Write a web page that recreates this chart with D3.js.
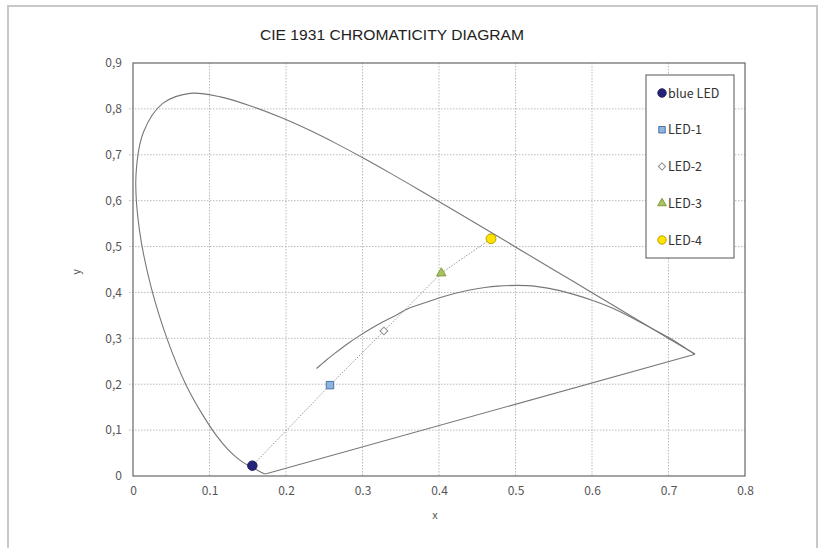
<!DOCTYPE html>
<html><head><meta charset="utf-8">
<script src="https://cdn.jsdelivr.net/npm/d3@7"></script>
<style>body{margin:0;background:#fff}svg{display:block}</style>
</head><body><svg id="c" width="825" height="548"></svg>
<script>
// CIE 1931 spectral locus (380-700 nm, 5 nm) [x, y]
const spectralLocus = [
[0.1741,0.0050],[0.1740,0.0050],[0.1738,0.0049],[0.1736,0.0049],[0.1733,0.0048],[0.1730,0.0048],
[0.1726,0.0048],[0.1721,0.0048],[0.1714,0.0051],[0.1703,0.0058],[0.1689,0.0069],[0.1669,0.0086],
[0.1644,0.0109],[0.1611,0.0138],[0.1566,0.0177],[0.1510,0.0227],[0.1440,0.0297],[0.1355,0.0399],
[0.1241,0.0578],[0.1096,0.0868],[0.0913,0.1327],[0.0687,0.2007],[0.0454,0.2950],[0.0235,0.4127],
[0.0082,0.5384],[0.0039,0.6548],[0.0139,0.7502],[0.0389,0.8120],[0.0743,0.8338],[0.1142,0.8262],
[0.1547,0.8059],[0.1929,0.7816],[0.2296,0.7543],[0.2658,0.7243],[0.3016,0.6923],[0.3373,0.6589],
[0.3731,0.6245],[0.4087,0.5896],[0.4441,0.5547],[0.4788,0.5202],[0.5125,0.4866],[0.5448,0.4544],
[0.5752,0.4242],[0.6029,0.3965],[0.6270,0.3725],[0.6482,0.3514],[0.6658,0.3340],[0.6801,0.3197],
[0.6915,0.3083],[0.7006,0.2993],[0.7079,0.2920],[0.7140,0.2859],[0.7190,0.2809],[0.7230,0.2770],
[0.7260,0.2740],[0.7283,0.2717],[0.7300,0.2700],[0.7311,0.2689],[0.7320,0.2680],[0.7327,0.2673],
[0.7334,0.2666],[0.7340,0.2660],[0.7344,0.2656],[0.7346,0.2654],[0.7347,0.2653]
];
// Line of purples (700 nm back to 380 nm)
const purpleLine = [[0.7347,0.2653],[0.1741,0.0050]];
// Planckian (blackbody) locus [x, y]
const planckLocus = [
[0.2399,0.2342],[0.2525,0.2523],[0.2637,0.2671],[0.2806,0.2883],[0.2952,0.3048],[0.3135,0.3236],
[0.3221,0.3318],[0.3451,0.3516],[0.3608,0.3657],[0.3805,0.3768],[0.4053,0.3907],[0.4369,0.4041],
[0.4599,0.4106],[0.4770,0.4137],[0.5018,0.4153],[0.5267,0.4133],[0.5580,0.4040],[0.6020,0.3820],
[0.6280,0.3650],[0.6528,0.3444],[0.6800,0.3200],[0.7020,0.3000],[0.7200,0.2810],[0.7347,0.2653]
];
const ledNames = ["blue LED","LED-1","LED-2","LED-3","LED-4"];
const ledX = [0.156, 0.2575, 0.328, 0.403, 0.468];
const ledY = [0.0225, 0.198, 0.316, 0.442, 0.517];
const xTicks = [0,0.1,0.2,0.3,0.4,0.5,0.6,0.7,0.8];
const yTicks = [0,0.1,0.2,0.3,0.4,0.5,0.6,0.7,0.8,0.9];

const svg = d3.select("#c");
const x = d3.scaleLinear().domain([0,0.8]).range([133,745]);
const y = d3.scaleLinear().domain([0,0.9]).range([476,63]);

// outer frame
svg.append("rect").attr("x",8).attr("y",6).attr("width",809).attr("height",560)
  .attr("fill","#fff").attr("stroke","#c8c8c8").attr("stroke-width",2);

// title
svg.append("text").attr("x",392).attr("y",40).attr("text-anchor","middle")
  .attr("font-family","'Liberation Sans Narrow','Liberation Sans',Arial,sans-serif")
  .attr("font-size",15).attr("fill","#222")
  .attr("textLength",264).attr("lengthAdjust","spacingAndGlyphs")
  .text("CIE 1931 CHROMATICITY DIAGRAM");

// grid
const g = svg.append("g");
g.selectAll(".vg").data(xTicks.slice(1,-1)).join("line")
  .attr("x1",d=>x(d)).attr("x2",d=>x(d)).attr("y1",y(0.9)).attr("y2",y(0))
  .attr("stroke","#aaa").attr("stroke-width",0.8).attr("stroke-dasharray","1.5,1.5");
g.selectAll(".hg").data(yTicks.slice(1,-1)).join("line")
  .attr("y1",d=>y(d)).attr("y2",d=>y(d)).attr("x1",x(0)-4).attr("x2",x(0.8))
  .attr("stroke","#aaa").attr("stroke-width",0.8).attr("stroke-dasharray","1.5,1.5");

// plot frame
svg.append("rect").attr("x",x(0)).attr("y",y(0.9)).attr("width",x(0.8)-x(0)).attr("height",y(0)-y(0.9))
  .attr("fill","none").attr("stroke","#666").attr("stroke-width",1.2);

// axes labels via d3 axes
const fontTick = "'Noto Sans CJK KR','Noto Sans',sans-serif";
const xAxis = svg.append("g").attr("transform",`translate(0,${y(0)})`)
  .call(d3.axisBottom(x).tickValues(xTicks).tickSize(0).tickPadding(10)
    .tickFormat(d=> d===0 ? "0" : d3.format(".1f")(d)));
const yAxis = svg.append("g").attr("transform",`translate(${x(0)},0)`)
  .call(d3.axisLeft(y).tickValues(yTicks).tickSize(0).tickPadding(11)
    .tickFormat(d=> d===0 ? "0" : d3.format(".1f")(d).replace(".",",")));
[xAxis,yAxis].forEach(a=>{
  a.select(".domain").remove();
  a.selectAll("text").attr("font-family",fontTick).attr("font-size",12).attr("fill","#555");
});

svg.append("text").attr("x",435).attr("y",519).attr("text-anchor","middle")
  .attr("font-family",fontTick).attr("font-size",11).attr("fill","#555").text("x");
svg.append("text").attr("transform","translate(80,272) rotate(-90)").attr("text-anchor","middle")
  .attr("font-family",fontTick).attr("font-size",11).attr("fill","#555").text("y");

const line = d3.line().x(d=>x(d[0])).y(d=>y(d[1]));
const smooth = d3.line().x(d=>x(d[0])).y(d=>y(d[1])).curve(d3.curveCatmullRom.alpha(0.5));
svg.append("path").attr("d",smooth(spectralLocus)).attr("fill","none")
  .attr("stroke","#777").attr("stroke-width",1.1).attr("stroke-linejoin","round");
svg.append("path").attr("d",line(purpleLine)).attr("fill","none")
  .attr("stroke","#777").attr("stroke-width",1.1);
svg.append("path").attr("d",smooth(planckLocus))
  .attr("fill","none").attr("stroke","#777").attr("stroke-width",1.1);

// LED connecting dotted line
const ledPts = ledX.map((v,i)=>[v, ledY[i]]);
svg.append("path").attr("d",line(ledPts)).attr("fill","none")
  .attr("stroke","#999").attr("stroke-width",1).attr("stroke-dasharray","1.5,1.5");

// markers
const styles = [
  {type:d3.symbolCircle, size:70, fill:"#26237a", stroke:"#1a1860", rot:0},
  {type:d3.symbolSquare, size:55, fill:"#8fb4e0", stroke:"#4a74aa", rot:0},
  {type:d3.symbolSquare, size:30, fill:"#fff", stroke:"#888", rot:45},
  {type:d3.symbolTriangle, size:38, fill:"#a9c45e", stroke:"#7f9a3c", rot:0},
  {type:d3.symbolCircle, size:75, fill:"#ffe400", stroke:"#b8a000", rot:0}
];
svg.selectAll(".mk").data(ledPts).join("path")
  .attr("transform",(d,i)=>`translate(${x(d[0])},${y(d[1])}) rotate(${styles[i].rot})`)
  .attr("d",(d,i)=>d3.symbol().type(styles[i].type).size(styles[i].size)())
  .attr("fill",(d,i)=>styles[i].fill).attr("stroke",(d,i)=>styles[i].stroke).attr("stroke-width",1);

// legend
const lg = svg.append("g");
lg.append("rect").attr("x",646).attr("y",75).attr("width",88).attr("height",183)
  .attr("fill","#fff").attr("stroke","#555").attr("stroke-width",1);
const ly = d3.scalePoint().domain(ledNames).range([93,240]);
ledNames.forEach((n,i)=>{
  const s = styles[i];
  const sz = i===2 ? 26 : (i===0||i===4 ? 55 : (i===1 ? 42 : 32));
  lg.append("path").attr("transform",`translate(662,${ly(n)}) rotate(${s.rot})`)
    .attr("d",d3.symbol().type(s.type).size(sz)())
    .attr("fill",s.fill).attr("stroke",s.stroke).attr("stroke-width",1);
  lg.append("text").attr("x",668).attr("y",ly(n)+4.5)
    .attr("font-family",fontTick).attr("font-size",12.5).attr("fill","#333").text(n);
});
</script></body></html>
